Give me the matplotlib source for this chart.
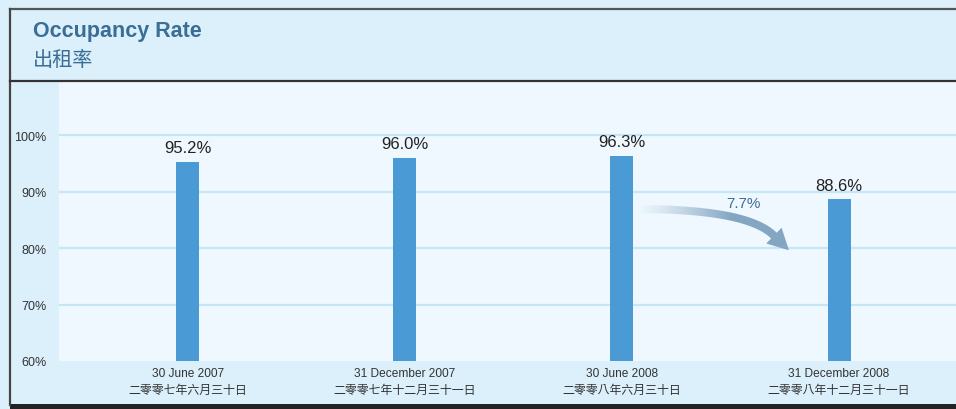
import matplotlib

matplotlib.use("Agg")
import matplotlib.pyplot as plt
import numpy as np
from matplotlib.patches import PathPatch, Rectangle
from matplotlib.path import Path
from matplotlib.lines import Line2D

plt.rcParams["font.family"] = ["Liberation Sans", "Noto Sans CJK TC", "DejaVu Sans"]

dates_en = ["30 June 2007", "31 December 2007", "30 June 2008", "31 December 2008"]
dates_zh = ["二零零七年六月三十日", "二零零七年十二月三十一日",
            "二零零八年六月三十日", "二零零八年十二月三十一日"]
occupancy = [95.2, 96.0, 96.3, 88.6]
yticks = [60, 70, 80, 90, 100]
drop_label = "7.7%"

BG = "#dbf0fb"
PLOT_BG = "#eef8fe"
BAR = "#4a9ad6"
GRID = "#c4e6f6"
TITLE = "#3a6e96"
ARROW = "#84a6c2"

W, H = 956, 410
fig = plt.figure(figsize=(W / 100, H / 100), dpi=100, facecolor=BG)


# frame of the panel (pixel coords -> figure fraction)
def fx(px):
    return px / W


def fy(py):
    return 1 - py / H


fig.add_artist(Line2D([fx(10), 1], [fy(10), fy(10)], color="#555555", lw=1.6))
fig.add_artist(Line2D([fx(10), fx(10)], [fy(10), fy(406)], color="#444444", lw=1.6))
fig.add_artist(Line2D([fx(10), 1], [fy(82), fy(82)], color="#333333", lw=1.6))
fig.add_artist(Rectangle((fx(10), 0), 1, fy(405), transform=fig.transFigure,
                         color="#222222", lw=0))

fig.text(fx(33), fy(32), "Occupancy Rate", fontsize=15.5, fontweight="bold",
         color=TITLE, va="center", ha="left")
fig.text(fx(33), fy(60), "出租率", fontsize=14.5, color=TITLE,
         va="center", ha="left", family=["Noto Sans CJK TC"])

ax = fig.add_axes([fx(59), fy(362), fx(956) - fx(59), fy(83) - fy(362)])
ax.set_facecolor(PLOT_BG)
x = np.arange(len(occupancy))
ax.set_xlim(-0.594, 3.539)
ax.set_ylim(60, 109.4)

for v in yticks[1:]:
    ax.axhline(v, color=GRID, lw=1.6, zorder=1)

ax.bar(x, [v - 60 for v in occupancy], bottom=60, width=0.106, color=BAR, zorder=3)
for xi, v in zip(x, occupancy):
    ax.annotate(f"{v:.1f}%", (xi, v), xytext=(0, 5), textcoords="offset points",
                ha="center", va="bottom", fontsize=12, color="#222222")

for s in ax.spines.values():
    s.set_visible(False)
ax.set_yticks(yticks)
ax.set_yticklabels([f"{v}%" for v in yticks], fontsize=9, color="#333333")
ax.tick_params(axis="y", length=0, pad=9)
ax.set_xticks(x)
ax.set_xticklabels([f"{e}\n{z}" for e, z in zip(dates_en, dates_zh)],
                   fontsize=8.6, color="#333333", linespacing=1.6)
ax.tick_params(axis="x", length=0, pad=4)

# gradient arrow showing the drop between the last two dates
to_px = ax.transData.transform
p0 = to_px((x[2] + 0.07, occupancy[2] - 9.4))
p2 = to_px((x[2] + 0.70, occupancy[3] - 6.4))
p1 = np.array([p2[0] - (p0[1] - p2[1]), p0[1]])
t = np.linspace(0, 1, 80)[:, None]
curve = (1 - t) ** 2 * p0 + 2 * (1 - t) * t * p1 + t ** 2 * p2
tang = np.gradient(curve, axis=0)
tang /= np.linalg.norm(tang, axis=1)[:, None]
norm = np.column_stack([-tang[:, 1], tang[:, 0]])
hw = 4.0
upper = curve + norm * hw
lower = curve - norm * hw
d = tang[-1]
n = norm[-1]
tip = p2 + d * 21
head = [p2 + n * 11, tip, p2 - n * 11]
verts = np.vstack([upper, head, lower[::-1], upper[:1]])
verts_data = ax.transData.inverted().transform(verts)
codes = [Path.MOVETO] + [Path.LINETO] * (len(verts_data) - 2) + [Path.CLOSEPOLY]
clip = PathPatch(Path(verts_data, codes), facecolor="none", edgecolor="none",
                 transform=ax.transData)
ax.add_patch(clip)

rgb = matplotlib.colors.to_rgb(ARROW)
grad = np.zeros((2, 256, 4))
grad[..., :3] = rgb
grad[..., 3] = np.clip(np.linspace(0, 1.6, 256), 0, 1)[None, :] ** 1.2
xmin, ymin = verts_data.min(axis=0)
xmax, ymax = verts_data.max(axis=0)
im = ax.imshow(grad, extent=(xmin, xmax, ymin, ymax), aspect="auto",
               interpolation="bilinear", zorder=4)
im.set_clip_path(clip)
ax.set_xlim(-0.594, 3.539)
ax.set_ylim(60, 109.4)

ax.text(2.56, 88.0, drop_label, ha="center", va="center", fontsize=11,
        color="#3d6f93")

fig.savefig("out.png", dpi=100, facecolor=BG)
